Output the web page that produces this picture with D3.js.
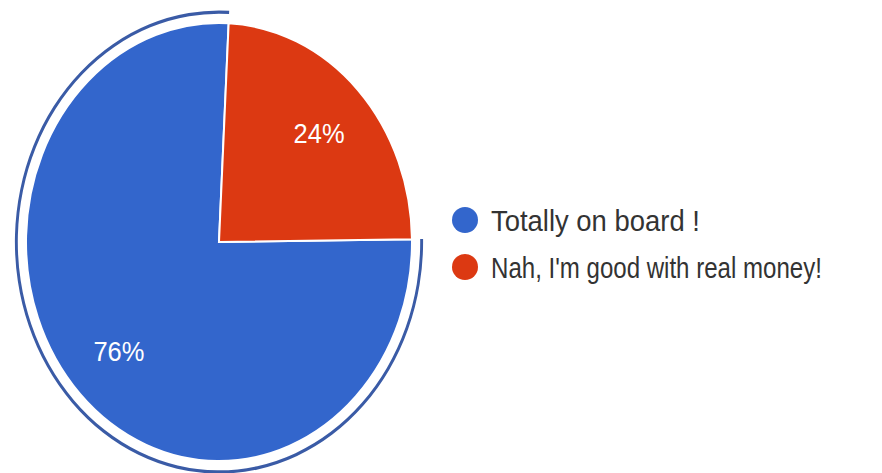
<!DOCTYPE html>
<html>
<head>
<meta charset="utf-8">
<script src="https://cdn.jsdelivr.net/npm/d3@7"></script>
<style>
  body { margin: 0; background: #fff; }
  text { font-family: "Liberation Sans", Arial, sans-serif; }
</style>
</head>
<body>
<div id="chart-area"></div>
<script>
// Data
const labels = ["Totally on board !", "Nah, I'm good with real money!"]
const values = [76, 24]
const colors = ["#3366cc", "#dc3912"]
const labelWidths = [209, 331]   // legend text widths in the picture

const WIDTH = 882
const HEIGHT = 473
const CX = 219, CY = 242, R = 200
const SX = 0.965, SY = 1.095   // the picture is a bit squashed

const svg = d3.select("#chart-area").append("svg")
  .attr("width", WIDTH)
  .attr("height", HEIGHT)

const data = labels.map((l, i) => ({ label: l, value: values[i], color: colors[i] }))

const pie = d3.pie()
  .value(d => d.value)
  .sortValues((a, b) => a - b)
  .startAngle(0.05)
  .endAngle(0.05 + 2 * Math.PI)
const arcs = pie(data)

const g = svg.append("g")
  .attr("transform", `translate(${CX}, ${CY}) scale(${SX}, ${SY})`)

const arc = d3.arc().innerRadius(0).outerRadius(R)

// Slices
g.selectAll("path.slice")
  .data(arcs)
  .enter().append("path")
    .attr("class", "slice")
    .attr("d", arc)
    .attr("fill", d => d.data.color)
    .attr("stroke", "#fff")
    .attr("stroke-width", 2)
    .attr("vector-effect", "non-scaling-stroke")

// Highlight ring round the first slice
const ring = d3.arc().innerRadius(R + 8.5).outerRadius(R + 11.5)
g.append("path")
  .datum(arcs[0])
  .attr("d", ring)
  .attr("fill", "#3a5ba6")

// squeeze a text to a given width
function squeeze(sel, w) {
  sel.each(function(d, i) {
    const len = this.getComputedTextLength()
    const k = (typeof w === "function" ? w(d, i) : w) / len
    d3.select(this).attr("transform", `scale(${k}, 1)`)
  })
}

// Percent labels
const labelArc = d3.arc().innerRadius(R * 0.72).outerRadius(R * 0.72)
const total = d3.sum(values)
svg.selectAll("g.pct")
  .data(arcs)
  .enter().append("g")
    .attr("class", "pct")
    .attr("transform", d => `translate(${CX + labelArc.centroid(d)[0] * SX}, ${CY + labelArc.centroid(d)[1] * SY})`)
  .append("text")
    .attr("dy", "0.36em")
    .attr("text-anchor", "middle")
    .attr("fill", "#fff")
    .attr("font-size", 28)
    .text(d => Math.round(d.value / total * 100) + "%")
    .call(squeeze, 51)

// Legend
const legend = svg.selectAll("g.legend")
  .data(data)
  .enter().append("g")
    .attr("class", "legend")
    .attr("transform", (d, i) => `translate(465, ${220 + i * 47})`)

legend.append("circle")
  .attr("r", 13)
  .attr("fill", d => d.color)

legend.append("g")
    .attr("transform", "translate(26, 11)")
  .append("text")
    .attr("font-size", 30)
    .attr("fill", "#333")
    .text(d => d.label)
    .call(squeeze, (d, i) => labelWidths[i])
</script>
</body>
</html>
